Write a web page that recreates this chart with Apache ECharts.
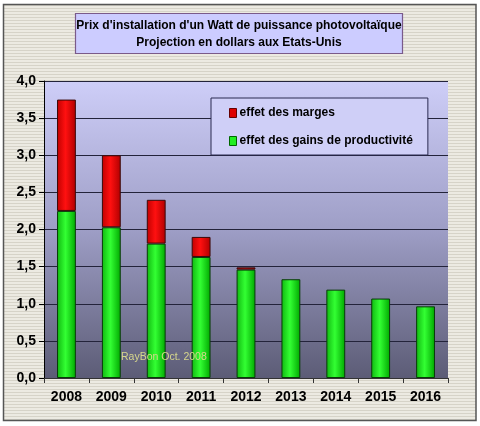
<!DOCTYPE html>
<html><head><meta charset="utf-8">
<script src="https://cdn.jsdelivr.net/npm/echarts@6/dist/echarts.min.js"></script>
<style>html,body{margin:0;padding:0;background:#fff}#c{width:480px;height:426px}</style>
</head><body><div id="c"></div>
<script>
const years = ['2008','2009','2010','2011','2012','2013','2014','2015','2016'];
const gains = [2.25, 2.03, 1.81, 1.63, 1.46, 1.33, 1.19, 1.07, 0.965];
const marges = [1.50, 0.97, 0.59, 0.27, 0.03, 0, 0, 0, 0];
const yTicks = [0, 0.5, 1, 1.5, 2, 2.5, 3, 3.5, 4];
const titleLines = ["Prix d'installation d'un Watt de puissance photovoltaïque", "Projection en dollars aux Etats-Unis"];
const legendNames = ['effet des marges', 'effet des gains de productivité'];
const credit = 'RayBon Oct. 2008';

// striped background pattern
const pc = document.createElement('canvas');
pc.width = 4; pc.height = 3;
const px = pc.getContext('2d');
px.fillStyle = '#eceae2'; px.fillRect(0,0,4,3);
px.fillStyle = '#d6d3c8'; px.fillRect(0,2,4,1);

const chart = echarts.init(document.getElementById('c'), null, {renderer:'canvas'});
const F = 'Liberation Sans, Arial, sans-serif';
function barGrad(c1, c2, c3){
  return new echarts.graphic.LinearGradient(0,0,1,0,[{offset:0,color:c1},{offset:0.45,color:c2},{offset:1,color:c3}]);
}
chart.setOption({
  animation:false,
  backgroundColor:'#ffffff',
  graphic:[
    {type:'rect', z:-10, shape:{x:3.5,y:4.5,width:472.5,height:416}, style:{fill:{image:pc,repeat:'repeat'}, stroke:'#555', lineWidth:1.5}},
    {type:'rect', z:10, shape:{x:75.5,y:13.5,width:327,height:40}, style:{fill:'#ccccff', stroke:'#7a5a8a', lineWidth:1.2}},
    {type:'text', z:11, style:{x:239,y:26,text:titleLines[0],font:'bold 12px '+F,fill:'#000',align:'center',verticalAlign:'middle'}},
    {type:'text', z:11, style:{x:239,y:43,text:titleLines[1],font:'bold 12px '+F,fill:'#000',align:'center',verticalAlign:'middle'}},
    {type:'text', z:12, style:{x:121,y:357,text:credit,font:'10.5px '+F,fill:'#d6d68c',verticalAlign:'middle'}}
  ],
  grid:{left:44,right:32,top:81,bottom:48,containLabel:false,show:true,
    backgroundColor:new echarts.graphic.LinearGradient(0,0,0,1,[{offset:0,color:'#ceceF8'},{offset:0.5,color:'#9e9ec6'},{offset:1,color:'#5c5c76'}]),
    borderWidth:0},
  legend:{orient:'vertical',left:211,top:98,
    padding:[9,15,8,18],itemGap:16,itemWidth:7,itemHeight:9,icon:'rect',
    backgroundColor:'#cfcff7',borderColor:'#2a2a50',borderWidth:1,z:10,
    textStyle:{fontFamily:F,fontWeight:'bold',fontSize:12,color:'#000',padding:[0,6,0,-2]},
    data:[{name:legendNames[0],itemStyle:{color:'#dd0000',borderColor:'#600',borderWidth:1}},
          {name:legendNames[1],itemStyle:{color:'#22ee22',borderColor:'#060',borderWidth:1}}]},
  xAxis:{type:'category',data:years,boundaryGap:true,
    axisLine:{lineStyle:{color:'#333',width:1}},
    axisTick:{show:true,alignWithLabel:false,length:5,lineStyle:{color:'#333'}},
    axisLabel:{fontFamily:F,fontWeight:'bold',fontSize:14,color:'#000',margin:12}},
  yAxis:{type:'value',min:0,max:4,interval:0.5,
    axisLine:{show:true,lineStyle:{color:'#000',width:1}},
    axisTick:{show:true,length:5,lineStyle:{color:'#000'}},
    splitLine:{lineStyle:{color:'#23233a',width:1}},
    axisLabel:{fontFamily:F,fontWeight:'bold',fontSize:14,color:'#000',margin:8,
      formatter:v=>yTicks.indexOf(v)>=0?v.toFixed(1).replace('.',','):''}},
  series:[
    {name:legendNames[1],type:'bar',stack:'t',barWidth:'42%',data:gains,
      itemStyle:{color:barGrad('#10b810','#33ff33','#00a800'),borderColor:'#0a3a0a',borderWidth:1}},
    {name:legendNames[0],type:'bar',stack:'t',barWidth:'42%',
      data:marges.map(v=>v>0?v:'-'),
      itemStyle:{color:barGrad('#c00000','#ff1010','#b00000'),borderColor:'#3a0a0a',borderWidth:1}}
  ]
});
</script></body></html>
